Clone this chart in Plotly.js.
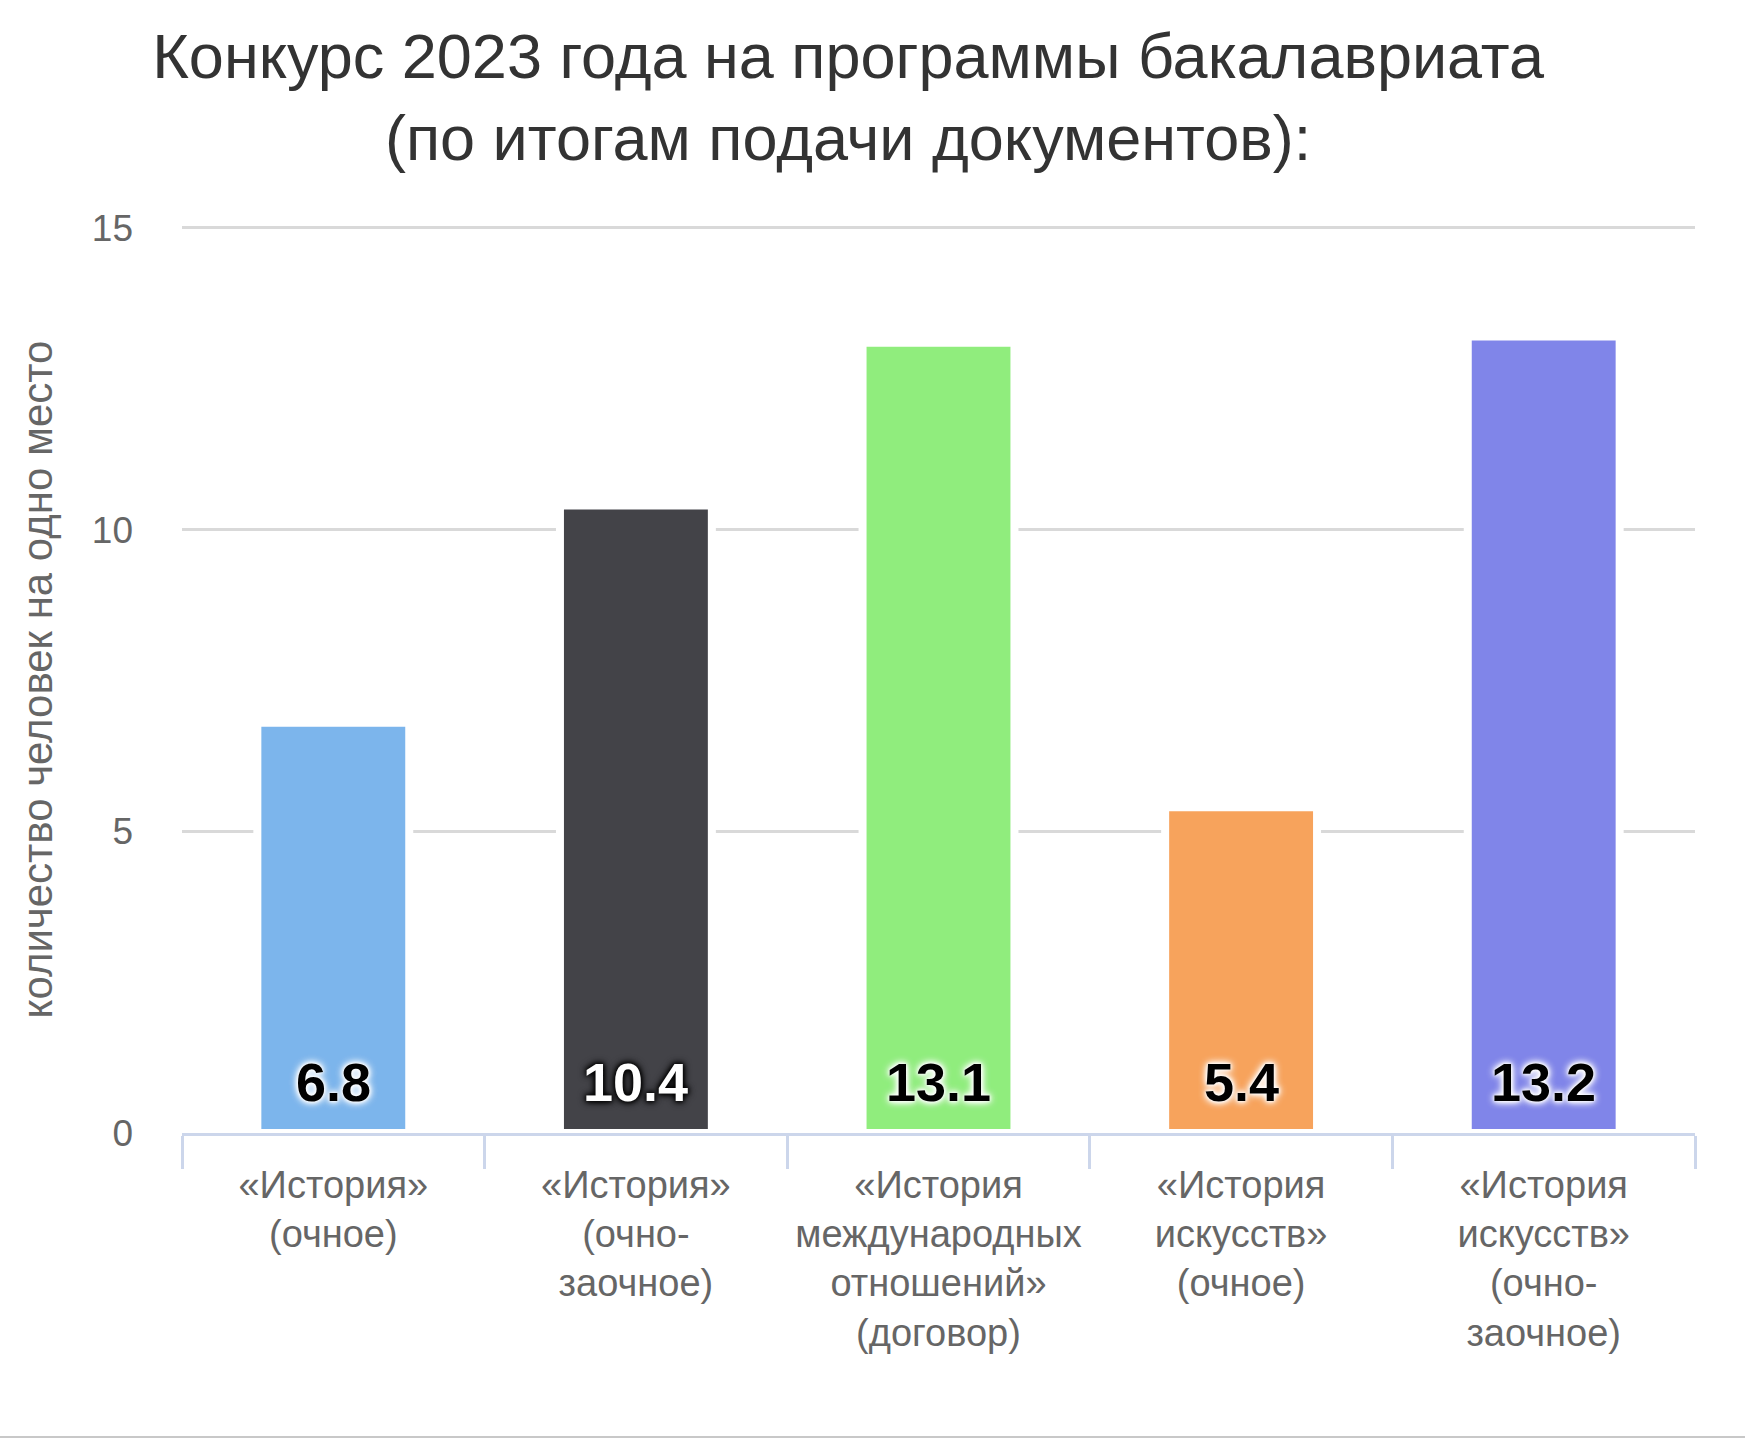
<!DOCTYPE html>
<html>
<head>
<meta charset="utf-8">
<script src="https://cdn.plot.ly/plotly-3.0.1.min.js"></script>
<style>
  html, body { margin: 0; padding: 0; background: #ffffff; }
  #chart { width: 1745px; height: 1436px; border-bottom: 2px solid #c8c8c8; }
</style>
</head>
<body>
<div id="chart"></div>
<script>
// ---- data ----
const categories = [
  "«История»<br>(очное)",
  "«История»<br>(очно-<br>заочное)",
  "«История<br>международных<br>отношений»<br>(договор)",
  "«История<br>искусств»<br>(очное)",
  "«История<br>искусств»<br>(очно-<br>заочное)"
];
const values = [6.8, 10.4, 13.1, 5.4, 13.2];
const valueLabels = ["6.8", "10.4", "13.1", "5.4", "13.2"];
const yTickValues = [0, 5, 10, 15];
const titleText = "Конкурс 2023 года на программы бакалавриата<br>(по итогам подачи документов):";
const yTitleText = "количество человек на одно место";

// ---- styles ----
const barColors = ["#7cb5ec", "#434348", "#90ed7d", "#f7a35c", "#8085e9"];
const labelColors = ["#000000", "#ffffff", "#000000", "#000000", "#000000"];
const glowWhite = "0 0 8px #fff, 0 0 8px #fff, 0 0 5px #fff, 0 0 3px #fff";
const glowBlack = "0 0 8px #000, 0 0 6px #000, 0 0 4px #000";
const labelShadows = [glowWhite, glowBlack, glowWhite, glowWhite, glowWhite];
const FONT = "Liberation Sans, Arial, sans-serif";

const trace = {
  type: "bar",
  x: categories,
  y: values,
  marker: { color: barColors, line: { color: "#ffffff", width: 8 } },
  hoverinfo: "x+y"
};

const annotations = categories.map((c, i) => ({
  x: c,
  y: 0,
  xref: "x",
  yref: "y",
  text: "<b>" + valueLabels[i] + "</b>",
  showarrow: false,
  yanchor: "bottom",
  yshift: 19,
  font: { family: FONT, size: 54, color: labelColors[i], shadow: labelShadows[i] }
}));

const layout = {
  width: 1745,
  height: 1436,
  paper_bgcolor: "#ffffff",
  plot_bgcolor: "#ffffff",
  margin: { l: 182, r: 50, t: 226, b: 303, autoexpand: false },
  font: { family: FONT, color: "#666666" },
  title: {
    text: titleText,
    font: { family: FONT, size: 63, color: "#333333" },
    x: 0.486,
    xref: "container",
    xanchor: "center",
    y: 0.9457,
    yref: "container",
    yanchor: "top"
  },
  bargap: 0.498,
  showlegend: false,
  xaxis: {
    type: "category",
    showline: true,
    linecolor: "#ccd6eb",
    linewidth: 3,
    ticks: "outside",
    tickson: "boundaries",
    ticklen: 33,
    tickwidth: 3,
    tickcolor: "#ccd6eb",
    ticklabelstandoff: 16,
    tickfont: { family: FONT, size: 38, color: "#666666" },
    showgrid: false,
    zeroline: false,
    automargin: false
  },
  yaxis: {
    range: [0, 15.033],
    tickvals: yTickValues,
    ticktext: yTickValues.map(String),
    showgrid: true,
    gridcolor: "#d9d9d9",
    gridwidth: 3,
    zeroline: false,
    showline: false,
    ticks: "",
    ticklabelstandoff: 48,
    tickfont: { family: FONT, size: 37, color: "#666666" },
    title: {
      text: yTitleText,
      font: { family: FONT, size: 42, color: "#666666" },
      standoff: 26
    },
    automargin: false
  },
  annotations: annotations
};

Plotly.newPlot("chart", [trace], layout, { displayModeBar: false, staticPlot: true });
</script>
</body>
</html>
